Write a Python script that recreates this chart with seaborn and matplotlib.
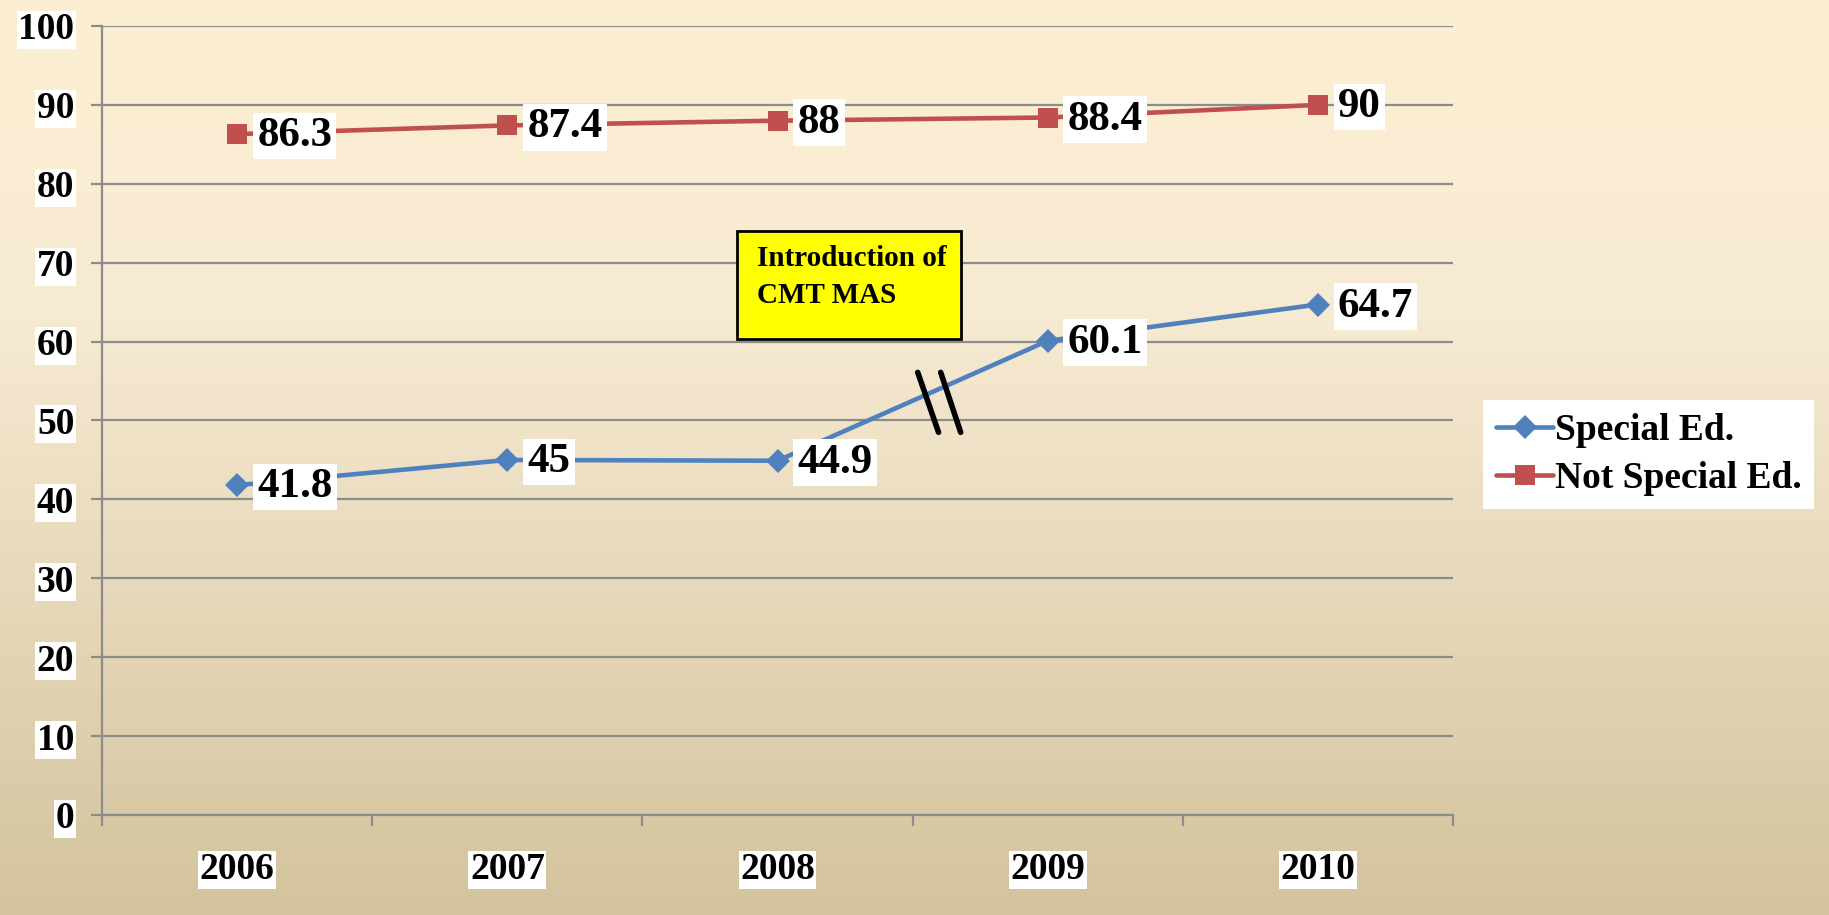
import numpy as np
import pandas as pd
import seaborn as sns
import matplotlib.pyplot as plt
from matplotlib.patches import Rectangle
from matplotlib.lines import Line2D

years = ["2006", "2007", "2008", "2009", "2010"]
special_ed = [41.8, 45, 44.9, 60.1, 64.7]
not_special_ed = [86.3, 87.4, 88, 88.4, 90]
series_names = ["Special Ed.", "Not Special Ed."]
y_ticks = list(range(0, 101, 10))

sns.set_theme(style="white")
plt.rcParams['font.family'] = ['Liberation Serif', 'DejaVu Serif']
plt.rcParams['font.weight'] = 'bold'
plt.rcParams['text.color'] = 'black'
plt.rcParams['xtick.labelcolor'] = 'black'
plt.rcParams['ytick.labelcolor'] = 'black'

df = pd.DataFrame({
    "idx": list(range(len(years))) * 2,
    "value": special_ed + not_special_ed,
    "series": [series_names[0]] * len(years) + [series_names[1]] * len(years),
})

fig = plt.figure(figsize=(18.29, 9.15), dpi=100)

# gradient background
bg = fig.add_axes([0, 0, 1, 1], zorder=-10)
top = np.array([253, 239, 211]) / 255
mid = np.array([246, 234, 210]) / 255
bot = np.array([211, 195, 157]) / 255
t = np.linspace(0, 1, 400)[:, None]
grad = np.where(t < 0.35, top + (mid - top) * (t / 0.35), mid + (bot - mid) * ((t - 0.35) / 0.65))
bg.imshow(grad[:, None, :], aspect='auto', extent=[0, 1, 0, 1])
bg.axis('off')

ax = fig.add_axes([0.0558, 0.1093, 0.7386, 0.8623])
ax.patch.set_alpha(0)

palette = {series_names[0]: "#4F81BD", series_names[1]: "#C0504D"}
markers = {series_names[0]: "D", series_names[1]: "s"}
msize = {series_names[0]: 12, series_names[1]: 14}
sns.lineplot(data=df, x="idx", y="value", hue="series", style="series",
             palette=palette, markers=markers, dashes=False, linewidth=3.3,
             markersize=14, markeredgewidth=0, ax=ax, legend=False)
for ln in ax.lines:
    if ln.get_marker() == 'D':
        ln.set_markersize(12)

ax.set_xlim(-0.5, len(years) - 0.5)
ax.set_ylim(0, 100)
ax.set_xlabel("")
ax.set_ylabel("")

ax.set_yticks(y_ticks)
ax.grid(axis='y', color='#8C8C8C', linewidth=1.6)
ax.grid(axis='x', visible=False)
for s in ['top', 'right']:
    ax.spines[s].set_visible(False)
for s in ['left', 'bottom']:
    ax.spines[s].set_color('#8C8C8C')
    ax.spines[s].set_linewidth(1.6)

ax.tick_params(axis='y', length=8, width=1.6, color='#8C8C8C', pad=12,
               labelsize=27, left=True)
for lab in ax.get_yticklabels():
    lab.set_fontweight('bold')
    lab.set_bbox(dict(facecolor='white', edgecolor='none', pad=1))

ax.set_xticks(np.arange(-0.5, len(years), 1.0))
ax.set_xticklabels([])
ax.set_xticks(range(len(years)), minor=True)
ax.set_xticklabels(years, minor=True)
ax.tick_params(axis='x', which='major', length=8, width=1.6, color='#8C8C8C', bottom=True)
ax.tick_params(axis='x', which='minor', length=0, pad=27, labelsize=27)
for lab in ax.get_xticklabels(minor=True):
    lab.set_fontweight('bold')
    lab.set_bbox(dict(facecolor='white', edgecolor='none', pad=1))

# data labels
for vals in (special_ed, not_special_ed):
    for i, v in enumerate(vals):
        ax.annotate(f"{v:g}", (i, v), xytext=(20, -2), textcoords='offset pixels',
                    ha='left', va='center', fontsize=31, fontweight='bold',
                    bbox=dict(facecolor='white', edgecolor='none', pad=3))

# annotation box
ax.add_patch(Rectangle((1.85, 60.3), 0.83, 13.7, facecolor='#FFFF00',
                       edgecolor='black', linewidth=2, zorder=5))
ax.text(1.925, 72.2, "Introduction of\nCMT MAS", ha='left', va='top',
        fontsize=21, fontweight='bold', linespacing=1.45, zorder=6)

# break marks
ax.plot([2.519, 2.596], [56.1, 48.5], color='black', linewidth=4, zorder=6)
ax.plot([2.604, 2.678], [56.1, 48.5], color='black', linewidth=4, zorder=6)

# legend
handles = [Line2D([], [], color=palette[n], marker=markers[n], linewidth=3.3,
                  markersize=msize[n], markeredgewidth=0)
           for n in series_names]
leg = fig.legend(handles, series_names, loc='center left',
                 bbox_to_anchor=(0.811, 0.503), frameon=True, fancybox=False,
                 framealpha=1, facecolor='white', edgecolor='none',
                 prop={'size': 27, 'weight': 'bold'}, handlelength=1.5,
                 handletextpad=0.05, labelspacing=0.35, borderpad=0.35,
                 borderaxespad=0)

fig.savefig("out.png", dpi=100)
